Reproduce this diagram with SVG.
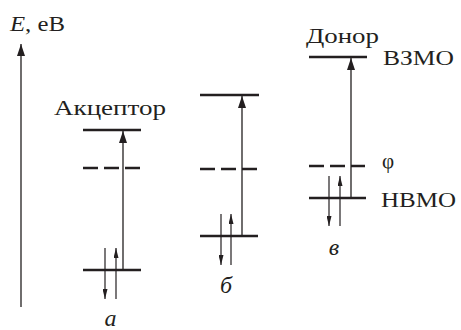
<svg xmlns="http://www.w3.org/2000/svg" width="461" height="330" viewBox="0 0 461 330">
<style>
.lvl{stroke:#231f20;stroke-width:2.6;fill:none}
.dash{stroke:#231f20;stroke-width:2.6;fill:none;stroke-dasharray:15 6}
.ln{stroke:#231f20;stroke-width:1.3;fill:none}
.thin{stroke:#231f20;stroke-width:1.2;fill:none}
</style>
<defs>
<marker id="bigH" viewBox="0 0 12 8" refX="12" refY="4" markerWidth="12" markerHeight="8" markerUnits="userSpaceOnUse" orient="auto"><path d="M0,0 L12,4 L0,8 Z" fill="#231f20"/></marker>
<marker id="sm" viewBox="0 0 10 5" refX="10" refY="2.5" markerWidth="10" markerHeight="5" markerUnits="userSpaceOnUse" orient="auto"><path d="M0,0 L10,2.5 L0,5 Z" fill="#231f20"/></marker>
</defs>
<g font-family="'Liberation Serif', 'DejaVu Serif', serif" fill="#231f20" font-size="21">
<g id="axis">
<line class="ln" x1="21" y1="307" x2="21" y2="44" marker-end="url(#bigH)"/>
<text x="10" y="31" font-size="22" textLength="55" lengthAdjust="spacingAndGlyphs"><tspan font-style="italic">E</tspan>, eB</text>
</g>
<g id="panel-a">
<text x="54" y="115" textLength="112" lengthAdjust="spacingAndGlyphs">Акцептор</text>
<line class="lvl" x1="83" y1="130" x2="141" y2="130"/>
<line class="dash" x1="83" y1="168" x2="140" y2="168"/>
<line class="lvl" x1="83" y1="270" x2="141" y2="270"/>
<text font-style="italic" x="110.5" y="326" text-anchor="middle" font-size="24">а</text>
</g>
<g id="panel-b">
<line class="lvl" x1="200" y1="95" x2="259" y2="95"/>
<line class="dash" x1="200" y1="169" x2="258" y2="169"/>
<line class="lvl" x1="200" y1="236" x2="258" y2="236"/>
<text font-style="italic" x="226" y="293" text-anchor="middle" font-size="24">б</text>
</g>
<g id="panel-c">
<text x="306" y="43" textLength="73" lengthAdjust="spacingAndGlyphs">Донор</text>
<text x="383" y="65" textLength="71" lengthAdjust="spacingAndGlyphs">ВЗМО</text>
<text x="382" y="168">φ</text>
<text x="381" y="207" textLength="75" lengthAdjust="spacingAndGlyphs">НВМО</text>
<line class="lvl" x1="309" y1="57" x2="367" y2="57"/>
<line class="dash" x1="309" y1="166" x2="365" y2="166"/>
<line class="lvl" x1="309" y1="198" x2="366" y2="198"/>
<text font-style="italic" x="334" y="255" text-anchor="middle" font-size="24">в</text>
</g>
</g>
<g id="connectors">
<line class="ln" x1="123" y1="270" x2="123" y2="131" marker-end="url(#bigH)"/>
<line class="thin" x1="105" y1="248" x2="105" y2="299" marker-end="url(#sm)"/>
<line class="thin" x1="116" y1="299" x2="116" y2="248" marker-end="url(#sm)"/>
<line class="ln" x1="242" y1="236" x2="242" y2="96" marker-end="url(#bigH)"/>
<line class="thin" x1="221" y1="214" x2="221" y2="265" marker-end="url(#sm)"/>
<line class="thin" x1="231" y1="265" x2="231" y2="214" marker-end="url(#sm)"/>
<line class="ln" x1="351" y1="198" x2="351" y2="58" marker-end="url(#bigH)"/>
<line class="thin" x1="329" y1="176" x2="329" y2="226" marker-end="url(#sm)"/>
<line class="thin" x1="340" y1="226" x2="340" y2="176" marker-end="url(#sm)"/>
</g>
</svg>
